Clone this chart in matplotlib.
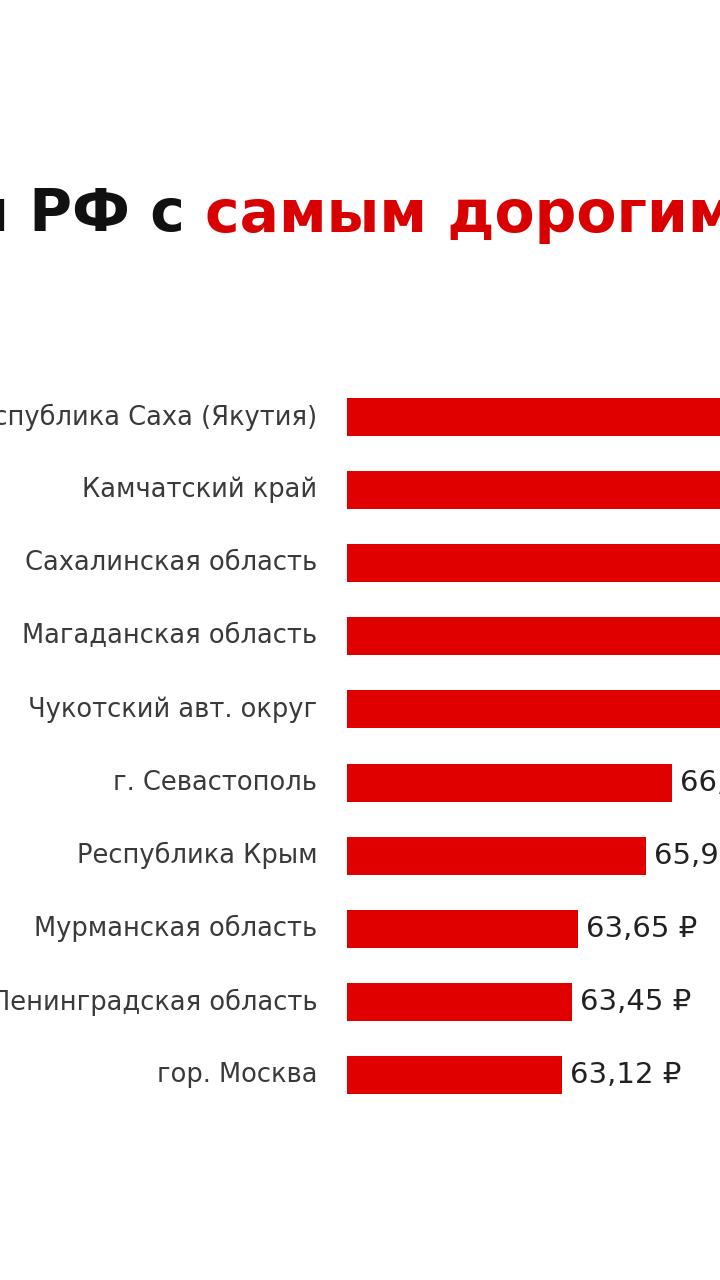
import matplotlib
matplotlib.use("Agg")
import matplotlib.pyplot as plt

regions = ["Республика Саха (Якутия)", "Камчатский край", "Сахалинская область",
           "Магаданская область", "Чукотский авт. округ", "г. Севастополь",
           "Республика Крым", "Мурманская область", "Ленинградская область", "гор. Москва"]
values = [75.20, 73.40, 72.10, 71.30, 70.50, 66.80, 65.93, 63.65, 63.45, 63.12]

plt.rcParams['font.family'] = ['DejaVu Sans']
fig = plt.figure(figsize=(7.2, 12.8), dpi=100)
fig.patch.set_facecolor('white')
ax = fig.add_axes([347/720, 1-1111.6/1280, 373/720, 731.2/1280])
ax.barh(range(len(values)), values, left=0, height=0.52, color='#e00000')
ax.set_xlim(55.95, 55.95 + 373/30)
ax.set_ylim(len(values)-0.5, -0.5)
ax.axis('off')
for i, (r, v) in enumerate(zip(regions, values)):
    ax.text(-0.08, i, r, transform=ax.get_yaxis_transform(), ha='right', va='center',
            fontsize=18.5, color='#3a3a3a', clip_on=False)
    ax.text(v + 0.25, i, f"{v:.2f}".replace('.', ',') + " ₽", ha='left', va='center',
            fontsize=21, color='#222222', clip_on=False)

fig.text(185/720, 1-215/1280, "Регионы РФ с", ha='right', va='center',
         fontsize=42, fontweight='bold', color='#111111')
fig.text(205/720, 1-215/1280, "самым дорогим бензином", ha='left', va='center',
         fontsize=42, fontweight='bold', color='#d80000')
fig.savefig("out.png", dpi=100)
